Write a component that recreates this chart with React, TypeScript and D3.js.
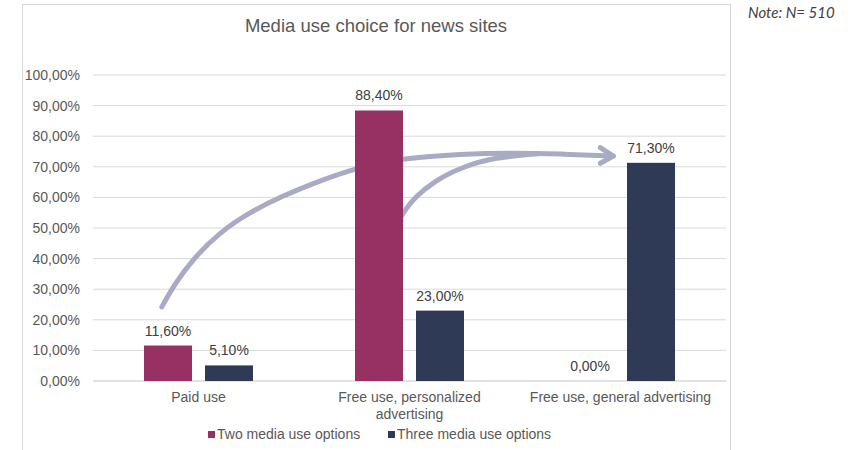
import { useEffect, useRef } from 'react';
import * as d3 from 'd3';

const categories = ['Paid use', 'Free use, personalized advertising', 'Free use, general advertising'];
const seriesNames = ['Two media use options', 'Three media use options'];
const twoOptions = [11.6, 88.4, 0];
const threeOptions = [5.1, 23.0, 71.3];
const yTicks = [0, 10, 20, 30, 40, 50, 60, 70, 80, 90, 100];
const seriesColors = ['#983163', '#2F3A56'];

// annotation arrows, in (category units, percent)
const arrowMain: [number, number][] = [
    [0.326, 24.2], [0.389, 31.9], [0.475, 40.0], [0.602, 48.7], [0.744, 55.2],
    [0.902, 60.6], [1.060, 65.0], [1.234, 69.4], [1.471, 72.9], [1.747, 74.2],
    [1.984, 74.6], [2.221, 74.2], [2.466, 73.5],
];
const arrowSecond: [number, number][] = [
    [1.445, 51.8], [1.471, 55.2], [1.526, 60.1], [1.621, 65.5], [1.747, 69.9],
    [1.905, 73.1], [2.110, 74.3],
];

const fmt = (v: number) => v.toFixed(2).replace('.', ',') + '%';

export default function App() {
    const ref = useRef<SVGSVGElement | null>(null);

    useEffect(() => {
        if (!ref.current) return;
        const width = 852;
        const height = 450;
        const margin = { top: 75, right: 126, bottom: 69, left: 93 };
        const font = '"Liberation Sans", Arial, sans-serif';
        const textColor = '#595959';
        const fontSize = '14px';

        const root = d3.select(ref.current);
        root.selectAll('*').remove();
        root.attr('width', width).attr('height', height);

        // chart frame
        root.append('rect')
            .attr('x', 22.5).attr('y', 4.5)
            .attr('width', 708).attr('height', 470)
            .attr('fill', '#fff').attr('stroke', '#D9D9D9');

        const x0 = d3.scaleBand<string>()
            .domain(categories)
            .range([margin.left, width - margin.right]);
        const x1 = d3.scaleBand<string>()
            .domain(seriesNames)
            .range([0, x0.bandwidth()])
            .paddingInner(0.213)
            .paddingOuter(0.836);
        const y = d3.scaleLinear()
            .domain([0, 100])
            .range([height - margin.bottom, margin.top]);
        const xu = d3.scaleLinear()
            .domain([0, categories.length])
            .range([margin.left, width - margin.right]);

        // title
        root.append('text')
            .attr('x', 376).attr('y', 32)
            .attr('text-anchor', 'middle')
            .style('font-family', font)
            .style('font-size', '18.5px')
            .attr('fill', textColor)
            .text('Media use choice for news sites');

        root.append('text')
            .attr('x', 748).attr('y', 18)
            .style('font-family', 'Lato, sans-serif')
            .style('font-style', 'italic')
            .style('font-size', '15px')
            .attr('fill', '#404040')
            .text('Note: N= 510');

        // gridlines + y labels
        const grid = root.append('g');
        grid.selectAll('line')
            .data(yTicks)
            .enter()
            .append('line')
            .attr('x1', margin.left).attr('x2', width - margin.right)
            .attr('y1', (d) => y(d)).attr('y2', (d) => y(d))
            .attr('stroke', '#D9D9D9')
            .attr('stroke-width', (d) => (d === 0 ? 1.5 : 1));
        grid.selectAll('text')
            .data(yTicks)
            .enter()
            .append('text')
            .attr('x', 80)
            .attr('y', (d) => y(d) + 5)
            .attr('text-anchor', 'end')
            .style('font-family', font)
            .style('font-size', fontSize)
            .attr('fill', textColor)
            .text((d) => fmt(d));

        // arrows (behind bars)
        const line = d3.line<[number, number]>()
            .x((d) => xu(d[0]))
            .y((d) => y(d[1]))
            .curve(d3.curveBasis);
        const arrowColor = '#A9ABC4';
        const arrows = root.append('g')
            .attr('fill', 'none')
            .attr('stroke', arrowColor)
            .attr('stroke-width', 5)
            .attr('stroke-linecap', 'round')
            .attr('stroke-linejoin', 'round');
        arrows.append('path').attr('d', line(arrowMain));
        arrows.append('path').attr('d', line(arrowSecond));
        const tip = arrowMain[arrowMain.length - 1];
        const tx = xu(tip[0]);
        const ty = y(tip[1]);
        arrows.append('path')
            .attr('d', `M${tx - 13},${ty - 8.4}L${tx},${ty}L${tx - 13},${ty + 7.2}`);

        // bars
        const values = [twoOptions, threeOptions];
        seriesNames.forEach((s, si) => {
            const g = root.append('g');
            g.selectAll('rect')
                .data(values[si])
                .enter()
                .append('rect')
                .attr('x', (_, i) => (x0(categories[i]) ?? 0) + (x1(s) ?? 0))
                .attr('y', (d) => y(d))
                .attr('width', x1.bandwidth())
                .attr('height', (d) => y(0) - y(d))
                .attr('fill', seriesColors[si]);
            g.selectAll('text')
                .data(values[si])
                .enter()
                .append('text')
                .attr('x', (_, i) => (x0(categories[i]) ?? 0) + (x1(s) ?? 0) + x1.bandwidth() / 2)
                .attr('y', (d) => y(d) - 10)
                .attr('text-anchor', 'middle')
                .style('font-family', font)
                .style('font-size', fontSize)
                .attr('fill', '#404040')
                .text((d) => fmt(d));
        });

        // category labels, wrapped
        const catG = root.append('g');
        categories.forEach((c) => {
            const cx = (x0(c) ?? 0) + x0.bandwidth() / 2;
            const t = catG.append('text')
                .attr('x', cx)
                .attr('y', 402)
                .attr('text-anchor', 'middle')
                .style('font-family', font)
                .style('font-size', fontSize)
                .attr('fill', textColor);
            const words = c.split(' ');
            let lineWords: string[] = [];
            let tspan = t.append('tspan').attr('x', cx).attr('dy', 0);
            words.forEach((w) => {
                lineWords.push(w);
                tspan.text(lineWords.join(' '));
                if ((tspan.node() as SVGTSpanElement).getComputedTextLength() > 195 && lineWords.length > 1) {
                    lineWords.pop();
                    tspan.text(lineWords.join(' '));
                    lineWords = [w];
                    tspan = t.append('tspan')
                        .attr('x', cx)
                        .attr('dy', 16.5)
                        .text(w);
                }
            });
        });

        // legend
        const legendX = [208, 388];
        const legend = root.append('g');
        seriesNames.forEach((s, si) => {
            legend.append('rect')
                .attr('x', legendX[si]).attr('y', 431)
                .attr('width', 7).attr('height', 7)
                .attr('fill', seriesColors[si]);
            legend.append('text')
                .attr('x', legendX[si] + 9).attr('y', 438.5)
                .style('font-family', font)
                .style('font-size', fontSize)
                .attr('fill', textColor)
                .text(s);
        });
    }, []);

    return <svg ref={ref} style={{ position: 'absolute', left: 0, top: 0, display: 'block' }} />;
}
